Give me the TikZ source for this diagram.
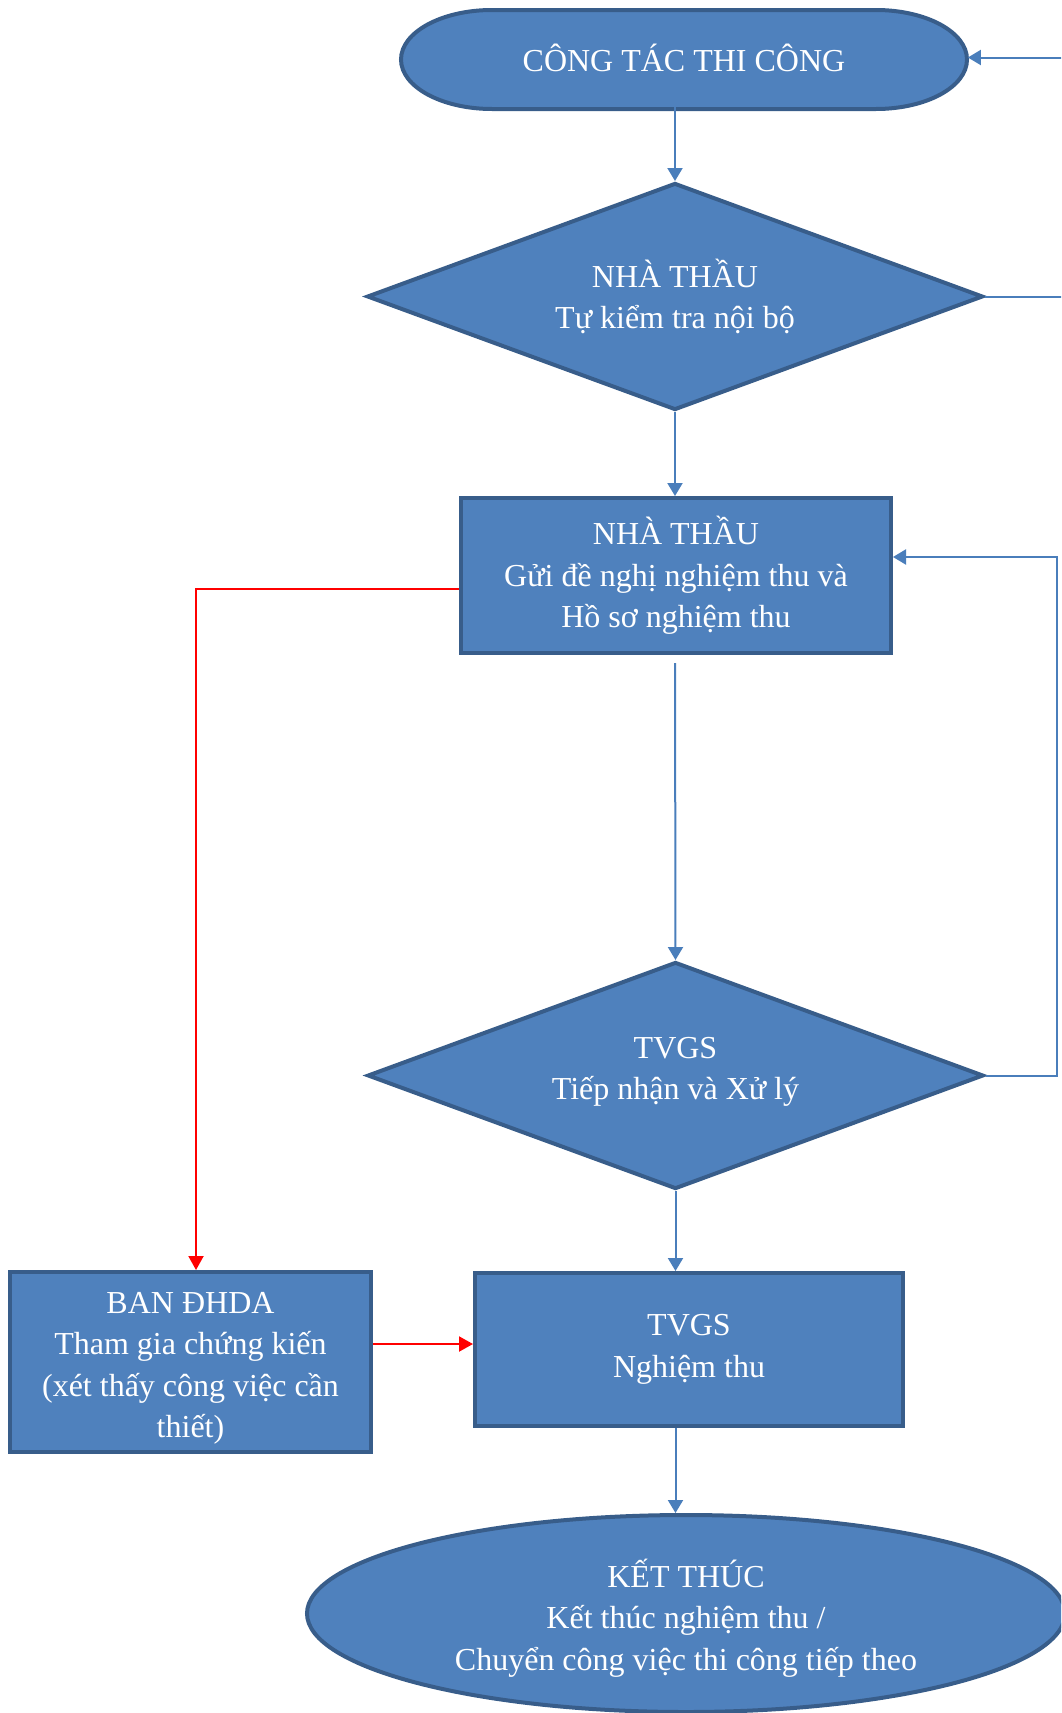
\documentclass[tikz,border=0pt]{standalone}
\usepackage{fontspec}
\setmainfont{Liberation Serif}
\usetikzlibrary{shapes.geometric,arrows.meta}
\definecolor{boxfill}{HTML}{4F81BD}
\definecolor{boxline}{HTML}{385D8A}
\definecolor{connblue}{HTML}{4A7EBB}
\definecolor{connred}{HTML}{FF0000}
\tikzset{
  shapebase/.style={fill=boxfill, draw=boxline, line width=2pt, text=white, align=center, inner sep=0pt,
    font=\fontsize{16pt}{20.75pt}\selectfont},
  stepbox/.style={shapebase, rectangle},
  decision/.style={shapebase, diamond, aspect=2.71, minimum width=308pt, minimum height=113.5pt},
  endshape/.style={shapebase, ellipse, minimum width=379pt, minimum height=98.5pt},
  termtext/.style={text=white, inner sep=0pt, minimum width=283.5pt, minimum height=49.5pt,
    font=\fontsize{16pt}{20.75pt}\selectfont},
  conn/.style={draw=connblue, line width=1pt, -{Triangle[length=6.5pt,width=7.5pt]}},
  redconn/.style={draw=connred, line width=1pt, -{Triangle[length=7pt,width=7.5pt]}},
}
\begin{document}
\begin{tikzpicture}[x=0.5pt,y=-0.5pt]
\useasboundingbox (0,0) rectangle (1061,1713);
\clip (0,0) rectangle (1061,1713);
% start terminator outline
\fill[boxfill, draw=boxline, line width=2pt] (492,10) -- (876,10)
  arc[start angle=-90, end angle=90, x radius=91, y radius=49.5] -- (492,109)
  arc[start angle=90, end angle=270, x radius=91, y radius=49.5] -- cycle;
\node[termtext] (start) at (684,57.5) {CÔNG TÁC THI CÔNG};
\node[decision] (d1) at (675,296.5) {NHÀ THẦU\\Tự kiểm tra nội bộ};
\node[stepbox, minimum width=215pt, minimum height=77.5pt] (b1) at (676,575.5)
  {NHÀ THẦU\\Gửi đề nghị nghiệm thu và\\Hồ sơ nghiệm thu};
\node[decision] (d2) at (675.5,1075.5) {TVGS\\Tiếp nhận và Xử lý\rule[-7pt]{0pt}{0pt}};
\node[stepbox, minimum width=214pt, minimum height=76.5pt] (b2) at (689,1349.5)
  {TVGS\\Nghiệm thu};
\node[stepbox, minimum width=180.5pt, minimum height=90pt] (ban) at (190.5,1362)
  {\rule{0pt}{17pt}BAN ĐHDA\\Tham gia chứng kiến\\(xét thấy công việc cần\\thiết)};
\node[endshape] (ell) at (686,1613.5)
  {\rule{0pt}{18.5pt}KẾT THÚC\\Kết thúc nghiệm thu /\\Chuyển công việc thi công tiếp theo};
% connectors
\draw[conn] (start.south -| d1.north) -- (d1.north);
\draw[conn] (d1.east) -- ++(120,0) |- (start.east);
\draw[conn] (d1.south) -- (d1.south |- b1.north);
\draw[conn, shorten <=4pt] (b1.south -| d1.south) -- (d2.north);
\draw[conn] (d2.east) -- (1057,1075.5) |- ([yshift=9.25pt]b1.east);
\draw[conn] (d2.south) -- (d2.south |- b2.north);
\draw[conn] (d2.south |- b2.south) -- (d2.south |- ell.north);
\coordinate (r1) at ([yshift=-6.75pt]b1.west);
\draw[redconn] (r1) -| ([xshift=2.75pt]ban.north);
\coordinate (r2) at ([yshift=9pt]ban.east);
\draw[redconn] (r2) -- (r2 -| b2.west);
\end{tikzpicture}
\end{document}
